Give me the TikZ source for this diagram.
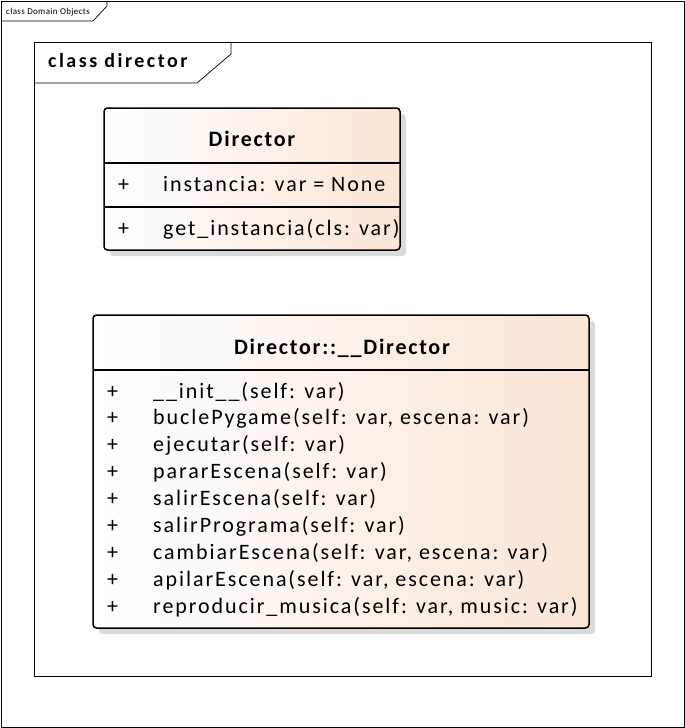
\documentclass[tikz,border=0pt]{standalone}
\usepackage{fontspec}
\setmainfont{Carlito}
\newfontfamily\memberfont[LetterSpace=8.8]{Carlito}
\newfontfamily\titlefont[LetterSpace=8]{Carlito}
\newfontfamily\smallfont[LetterSpace=4]{Carlito}
\newfontfamily\framefont[LetterSpace=12.5]{Carlito}
\definecolor{peach}{RGB}{251,229,214}
\definecolor{shade}{RGB}{218,218,218}
\begin{document}
\begin{tikzpicture}[x=1pt,y=-1pt,
  frame/.style={draw=black, line width=0.7pt},
  classbox/.style={draw=black, line width=1.5pt, rounded corners=3.5pt, left color=white, right color=peach, shading angle=90},
  shadowbox/.style={fill=shade, rounded corners=3.5pt},
  sep/.style={draw=black, line width=1.1pt},
  member/.style={anchor=base west, inner sep=0pt, font=\memberfont\fontsize{22}{22}\selectfont},
  title/.style={anchor=base, inner sep=0pt, font=\titlefont\bfseries\fontsize{22}{22}\selectfont},
]
\useasboundingbox (0,0) rectangle (685,728);
% outer frame
\draw[frame] (1,1) rectangle (684,727);
\draw[frame] (1,21) -- (93,21) -- (107,6) -- (107,1);
\node[anchor=base west, inner sep=0pt, font=\smallfont\fontsize{9}{9}\selectfont] (outerlbl) at (6,14) {class Domain Objects};
% inner frame
\draw[frame] (34,42) rectangle (651,676);
\draw[frame] (34,83) -- (197,83) -- (231,54) -- (231,42);
\node[anchor=base west, inner sep=0pt, font=\framefont\bfseries\fontsize{20}{20}\selectfont] (innerlbl) at (48,67) {class director};
% Director class
\fill[shadowbox] (110,114) rectangle (406,256);
\path[classbox] (104,108) rectangle (400,250);
\coordinate (d1l) at (104,163); \coordinate (d1r) at (400,163);
\coordinate (d2l) at (104,207); \coordinate (d2r) at (400,207);
\draw[sep] (d1l) -- (d1r);
\draw[sep] (d2l) -- (d2r);
\node[title] (dtitle) at (252,146) {Director};
\node[member] (dp1) at (118,191) {+};
\node[member] (da1) at (163,191) {instancia: var = None};
\node[member] (dp2) at (118,235) {+};
\node[member] (dm1) at (163,235) {get\_instancia(cls: var)};
% Director::__Director class
\fill[shadowbox] (99,321) rectangle (595,634);
\path[classbox] (93,315) rectangle (589,628);
\coordinate (s1l) at (93,370); \coordinate (s1r) at (589,370);
\draw[sep] (s1l) -- (s1r);
\node[title] (stitle) at (342,354) {Director::\_\_Director};
\foreach \t [count=\i] in {
  {\_\_init\_\_(self: var)},
  {buclePygame(self: var, escena: var)},
  {ejecutar(self: var)},
  {pararEscena(self: var)},
  {salirEscena(self: var)},
  {salirPrograma(self: var)},
  {cambiarEscena(self: var, escena: var)},
  {apilarEscena(self: var, escena: var)},
  {reproducir\_musica(self: var, music: var)}} {
  \node[member] (sp\i) at (107,{398+26.9*(\i-1)}) {+};
  \node[member] (sm\i) at (153,{398+26.9*(\i-1)}) {\t};
}
\end{tikzpicture}
\end{document}
